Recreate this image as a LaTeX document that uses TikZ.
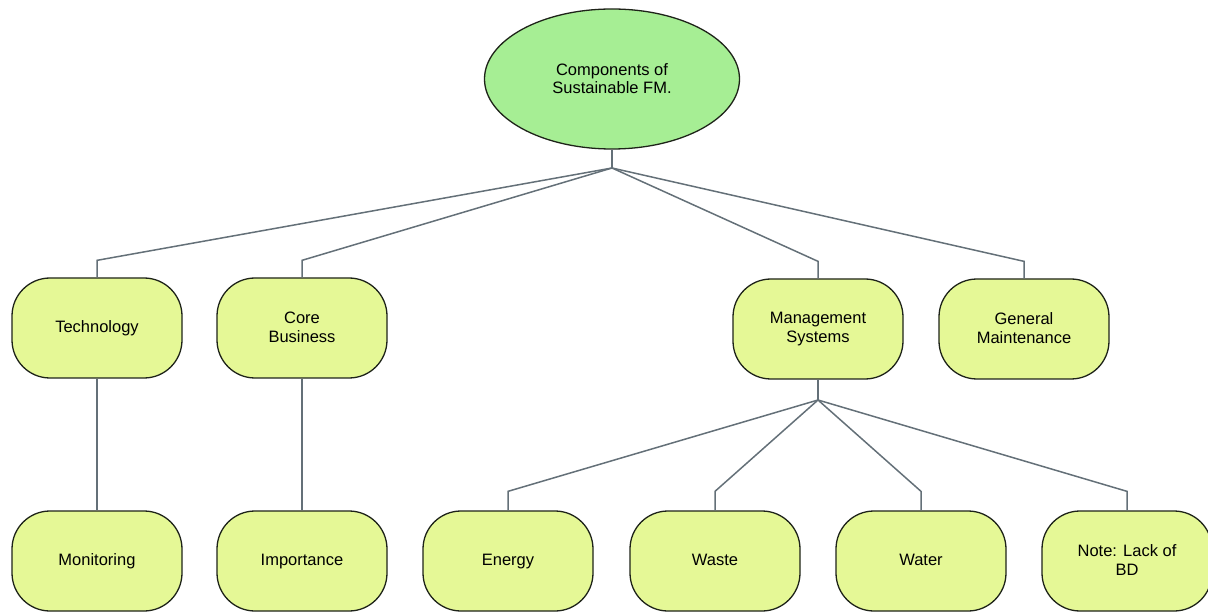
\documentclass[tikz,border=0pt]{standalone}
\usepackage{fontspec}
\setmainfont{Liberation Sans}
\usepackage{xcolor}
\definecolor{Col1}{RGB}{166,238,148}
\definecolor{Col2}{RGB}{229,248,150}
\definecolor{Col3}{RGB}{100,112,120}
\definecolor{Col4}{RGB}{30,35,25}
\usepackage{tikz}
\usetikzlibrary{shapes}
\tikzstyle{Root}=[ellipse,draw=Col4,fill=Col1,line width=1.3pt,minimum width=255pt,
minimum height=140pt,align=center,font=\fontsize{16.5}{18}\selectfont]
\tikzstyle{Box}=[rectangle,rounded corners=38pt,draw=Col4,fill=Col2,line width=1.3pt,
minimum width=170pt,minimum height=100pt,align=center,text depth=.25em,
font=\fontsize{16.5}{19}\selectfont]
\tikzstyle{Edge}=[draw=Col3,line width=1.5pt]

\begin{document}
\begin{tikzpicture}[x=1pt,y=-1pt]
        \useasboundingbox(0,0)rectangle(1208,612);
        \node[Root](sfm)at(612,79){Components of\\Sustainable FM.};
        \node[Box](tech)at(97,328){Technology};
        \node[Box](core)at(302,328){Core\\Business};
        \node[Box](mgmt)at(818,329){Management\\Systems};
        \node[Box](gen)at(1024,329){General\\Maintenance};
        \node[Box](mon)at(97,561){Monitoring};
        \node[Box](imp)at(302,561){Importance};
        \node[Box](ene)at(508,561){Energy};
        \node[Box](was)at(715,561){Waste};
        \node[Box](wat)at(921,561){Water};
        \node[Box](note)at(1127,561){Note: Lack of\\BD};
        \coordinate(j0)at(612,168);
        \coordinate(j1)at(818,400);
        \draw[Edge](sfm.south)--(j0);
        \draw[Edge](j0)--([yshift=17pt]tech.north)--(tech.north);
        \draw[Edge](j0)--([yshift=17pt]core.north)--(core.north);
        \draw[Edge](j0)--([yshift=17pt]mgmt.north)--(mgmt.north);
        \draw[Edge](j0)--([yshift=17pt]gen.north)--(gen.north);
        \draw[Edge](tech)--(mon);
        \draw[Edge](core)--(imp);
        \draw[Edge](mgmt.south)--(j1);
        \draw[Edge](j1)--([yshift=19pt]ene.north)--(ene.north);
        \draw[Edge](j1)--([yshift=19pt]was.north)--(was.north);
        \draw[Edge](j1)--([yshift=19pt]wat.north)--(wat.north);
        \draw[Edge](j1)--([yshift=19pt]note.north)--(note.north);
    \end{tikzpicture}
\end{document}
